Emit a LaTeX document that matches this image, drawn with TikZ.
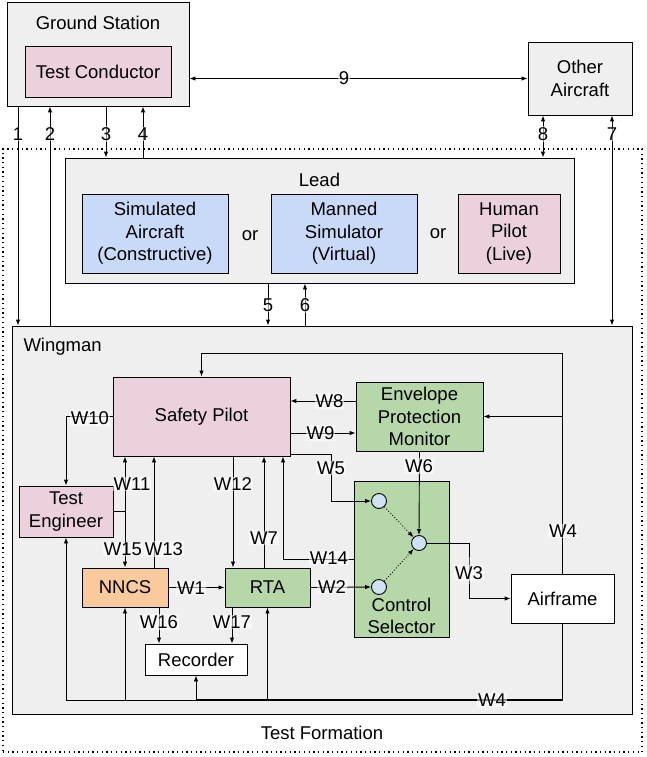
\documentclass[tikz,border=0pt]{standalone}
\usepackage{fontspec}
\setmainfont{Liberation Sans}
\usetikzlibrary{arrows.meta,calc}
\definecolor{bggrey}{HTML}{EFEFEF}
\definecolor{pinkc}{HTML}{EAD1DC}
\definecolor{bluec}{HTML}{C9DAF8}
\definecolor{greenc}{HTML}{B6D7A8}
\definecolor{orangec}{HTML}{F9CB9C}
\definecolor{circc}{HTML}{CFE2F3}
\begin{document}
\begin{tikzpicture}[x=1pt,y=-1pt,
  every node/.style={font=\fontsize{18.5}{22.5}\selectfont},
  box/.style={draw, line width=0.9pt, inner sep=0pt, align=center},
  lab/.style={fill=white, fill opacity=0.55, text opacity=1, inner sep=1pt},
  conn/.style={line width=0.9pt},
  thickconn/.style={line width=1.8pt},
  dotconn/.style={line width=0.9pt, dotted},
  tfbox/.style={draw, line width=1.3pt, dash pattern=on 1.3pt off 3.4pt, inner sep=0pt},
  pt/.style={circle, draw, line width=0.9pt, fill=circc, minimum size=15pt, inner sep=0pt},
  >={Latex[length=6pt,width=4.5pt]}]
\fill[white] (0,0) rectangle (646,757);
\useasboundingbox (0,0) rectangle (646,757);

% Test formation boundary
\node[tfbox, minimum width=639pt, minimum height=603pt] (tf) at (322.5,450.5) {};
\node (tft) at (322,733) {Test Formation};

% Ground station and other aircraft
\node[box, fill=bggrey, minimum width=182pt, minimum height=104pt] (gs) at (98,54) {};
\node (gst) at (98,22.5) {Ground Station};
\node[box, fill=pinkc, minimum width=146pt, minimum height=51pt] (tc) at (98,71.5) {Test Conductor};
\node[box, fill=bggrey, minimum width=104pt, minimum height=73pt] (oa) at (580,78.5) {Other\\Aircraft};

% Lead
\node[box, fill=bggrey, minimum width=509pt, minimum height=125pt] (lead) at (319.5,220.5) {};
\node (leadt) at (319.5,180) {Lead};
\node[box, fill=bluec, minimum width=146pt, minimum height=79pt] (sim) at (155,233.5) {Simulated\\Aircraft\\(Constructive)};
\node (or1) at (250,236) {or};
\node[box, fill=bluec, minimum width=146pt, minimum height=79pt] (man) at (344,233.5) {Manned\\Simulator\\(Virtual)};
\node (or2) at (438,234) {or};
\node[box, fill=pinkc, minimum width=102pt, minimum height=79pt] (hum) at (509,233.5) {Human\\Pilot\\(Live)};

% Wingman
\node[box, fill=bggrey, minimum width=620pt, minimum height=388pt] (wing) at (322,520) {};
\node[anchor=west] (wingt) at (20,347) {Wingman};
\node[box, fill=pinkc, minimum width=177pt, minimum height=79pt] (sp) at (201.5,416.5) {Safety Pilot};
\node[box, fill=greenc, minimum width=127pt, minimum height=69pt] (epm) at (419.5,416.5) {Envelope\\Protection\\Monitor};
\node[box, fill=pinkc, minimum width=94pt, minimum height=51pt] (te) at (66,511.5) {Test\\Engineer};
\node[box, fill=orangec, minimum width=86pt, minimum height=39pt] (nncs) at (125,587.5) {NNCS};
\node[box, fill=greenc, minimum width=85pt, minimum height=39pt] (rta) at (267.5,587.5) {RTA};
\node[box, fill=white, minimum width=102pt, minimum height=31pt] (rec) at (196,659.5) {Recorder};
\node[box, fill=greenc, minimum width=95pt, minimum height=156pt] (cs) at (401.5,559) {};
\node (cst) at (401.5,616) [align=center] {Control\\Selector};
\node[box, fill=white, minimum width=103pt, minimum height=49pt] (af) at (562.5,598.5) {Airframe};
\node[pt] (c1) at (379,501) {};
\node[pt] (c2) at (419,543) {};
\node[pt] (c3) at (379,587) {};

% Top-level connectors
\draw[conn,<->] (gs.east |- oa.west) -- (oa.west);
\draw[conn,->] (18,0 |- gs.south) -- (18,0 |- wing.north);
\draw[conn,->] (50,0 |- wing.north) -- (50,0 |- gs.south);
\draw[conn,->] (106,0 |- gs.south) -- (106,0 |- lead.north);
\draw[conn,->] (143,0 |- lead.north) -- (143,0 |- gs.south);
\draw[conn,<->] (543,0 |- oa.south) -- (543,0 |- lead.north);
\draw[conn,<->] (612,0 |- oa.south) -- (612,0 |- wing.north);
\draw[conn,->] (268,0 |- lead.south) -- (268,0 |- wing.north);
\draw[conn,->] (305,0 |- wing.north) -- (305,0 |- lead.south);
\node[lab] (l9) at (344,78) {9};
\node[lab] (l1) at (18,134) {1};
\node[lab] (l2) at (50,134) {2};
\node[lab] (l3) at (106,134) {3};
\node[lab] (l4) at (143,134) {4};
\node[lab] (l8) at (543,134) {8};
\node[lab] (l7) at (612,134) {7};
\node[lab] (l5) at (268,305) {5};
\node[lab] (l6) at (305,305) {6};

% Wingman connectors
\draw[conn,->] (sp.west) -| (te.north);
\coordinate (j11) at (nncs.north |- te.east);
\draw[conn] (te.east) -- (j11);
\draw[conn,->] (j11) -- (nncs.north |- sp.south);
\draw[conn,->] (j11) -- (nncs.north);
\draw[conn,->] (154,0 |- nncs.north) -- (154,0 |- sp.south);
\draw[conn,->] (233,0 |- sp.south) -- (233,0 |- rta.north);
\draw[conn,->] (264,0 |- rta.north) -- (264,0 |- sp.south);
\draw[conn,->] (cs.west) -| (283,0 |- sp.south);
\draw[conn,->] (sp.east |- 0,454) -| (c1.west -| 331,0) -- (c1.west);
\draw[conn,->] (epm.west |- 0,401) -- (sp.east |- 0,401);
\draw[conn,->] (sp.east |- 0,433) -- (epm.west |- 0,433);
\draw[conn,->] (epm.south) -- (c2.north);
\draw[dotconn,->] (c1) -- (c2);
\draw[dotconn,->] (c3) -- (c2);
\draw[conn,->] (rta.east) -- (c3.west);
\draw[conn,->] (nncs.east) -- (rta.west);
\coordinate (w3x) at (469,570);
\draw[conn,->] (c2.east) -| (w3x) |- (af.west);
\draw[conn,->] (159,0 |- nncs.south) -- (159,0 |- rec.north);
\draw[conn,->] (232,0 |- rta.south) -- (232,0 |- rec.north);
\coordinate (b4l) at (te.south |- 0,700);
\draw[conn,->] (af.south) |- (b4l) -- (te.south);
\draw[thickconn] (rec.south |- b4l) -- (af.south |- b4l);
\draw[conn,->] (nncs.south |- b4l) -- (nncs.south);
\draw[conn,->] (rec.south |- b4l) -- (rec.south);
\draw[conn,->] (rta.south |- b4l) -- (rta.south);
\coordinate (t4) at (af.north |- 0,353);
\draw[conn,->] (af.north) -- (t4) -| (sp.north);
\draw[conn,->] (af.north |- epm.east) -- (epm.east);

% Wingman labels
\node[lab] (lw10) at (90,418) {W10};
\node[lab] (lw11) at (132,484) {W11};
\node[lab] (lw15) at (123,549) {W15};
\node[lab] (lw13) at (164,549) {W13};
\node[lab] (lw12) at (233,484) {W12};
\node[lab] (lw7) at (264,538) {W7};
\node[lab] (lw14) at (329,558) {W14};
\node[lab] (lw5) at (331,468) {W5};
\node[lab] (lw8) at (329.5,401) {W8};
\node[lab] (lw9) at (320.5,433) {W9};
\node[lab] (lw6) at (419,466) {W6};
\node[lab] (lw2) at (332,587) {W2};
\node[lab] (lw1) at (191,588) {W1};
\node[lab] (lw3) at (469,573) {W3};
\node[lab] (lw16) at (159,622) {W16};
\node[lab] (lw17) at (232,622) {W17};
\node[lab] (lw4b) at (492,700) {W4};
\node[lab] (lw4t) at (563,531) {W4};
\end{tikzpicture}
\end{document}
